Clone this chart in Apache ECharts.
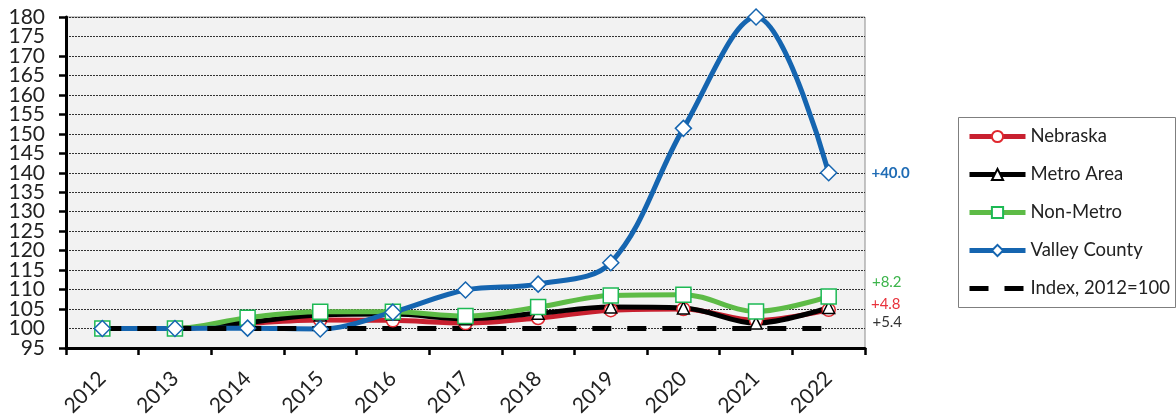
<!DOCTYPE html>
<html>
<head>
<meta charset="utf-8">
<script src="https://cdn.jsdelivr.net/npm/echarts@6/dist/echarts.min.js"></script>
<style>
html,body{margin:0;padding:0;background:#fff;}
#chart{width:1176px;height:419px;}
</style>
</head>
<body>
<div id="chart"></div>
<script>
const years = ['2012','2013','2014','2015','2016','2017','2018','2019','2020','2021','2022'];
const nebraska = [100, 100, 101.3, 102.2, 102.1, 101.4, 102.7, 104.7, 105.0, 102.1, 104.8];
const metro    = [100, 100, 101.6, 103.5, 103.7, 102.5, 103.9, 105.5, 105.3, 101.4, 105.4];
const nonMetro = [100, 100, 102.8, 104.3, 104.3, 103.2, 105.5, 108.5, 108.7, 104.4, 108.2];
const valley   = [100, 100, 100.1, 99.9, 104.2, 109.9, 111.4, 116.9, 151.4, 180.0, 140.0];
const indexLine = [100, 100, 100, 100, 100, 100, 100, 100, 100, 100, 100];
const seriesNames = ['Nebraska', 'Metro Area', 'Non-Metro', 'Valley County', 'Index, 2012=100'];
const endLabels = ['+4.8', '+5.4', '+8.2', '+40.0'];
const yTicks = {min: 95, max: 180, interval: 5};

const FONT = 'Lato';
const GRID = {left: 66, right: 311, top: 17, bottom: 68};
const PLOT_W = 1176 - GRID.left - GRID.right;

function withEndLabel(arr, text, color, offset, bold) {
  return arr.map((v, i) => {
    if (i !== arr.length - 1) return v;
    return {
      value: v,
      label: {
        show: true, formatter: text, position: 'right', distance: 0,
        offset: offset, color: color, fontFamily: FONT, fontSize: 15,
        fontWeight: bold ? 'bold' : 'normal'
      }
    };
  });
}

const yLabelStyle = {fontFamily: FONT, fontSize: 21, color: '#222', margin: 21};

const chart = echarts.init(document.getElementById('chart'), null, {renderer: 'canvas'});
chart.setOption({
  animation: false,
  backgroundColor: '#ffffff',
  graphic: [{
    type: 'rect', left: 958, top: 117, z: 0,
    shape: {width: 217, height: 190},
    style: {fill: '#ffffff', stroke: '#7f7f7f', lineWidth: 1}
  }],
  grid: {
    left: GRID.left, right: GRID.right, top: GRID.top, bottom: GRID.bottom,
    show: true, backgroundColor: '#F2F2F2', borderColor: '#8c8c8c', borderWidth: 1
  },
  legend: {
    orient: 'vertical', left: 958, top: 116,
    padding: [11, 10, 10, 9], itemGap: 19, itemWidth: 56, itemHeight: 14, itemTextGap: 3,
    textStyle: {fontFamily: FONT, fontSize: 18.5, color: '#222'},
    lineStyle: {width: 'inherit'},
    data: seriesNames
  },
  xAxis: {
    type: 'category', data: years, boundaryGap: true,
    axisLine: {show: true, lineStyle: {color: '#000', width: 3}},
    axisTick: {show: true, alignWithLabel: false, length: 7, lineStyle: {color: '#000', width: 2.5}},
    axisLabel: {rotate: 45, fontFamily: FONT, fontSize: 21, color: '#222', margin: 27, interval: 0},
    splitLine: {show: false}
  },
  yAxis: [
    {
      type: 'value', position: 'left', min: yTicks.min, max: yTicks.max, interval: yTicks.interval,
      axisLine: {show: true, lineStyle: {color: '#000', width: 3}},
      axisTick: {show: true, length: 7, lineStyle: {color: '#000', width: 2.5}},
      axisLabel: Object.assign({showMinLabel: true, showMaxLabel: true}, yLabelStyle),
      splitLine: {show: true, lineStyle: {color: '#333', width: 1, type: [2, 1]}}
    },
    {
      // companion axis on the same scale: supplies the labels next to min/max
      type: 'value', position: 'right', offset: -PLOT_W,
      min: yTicks.min, max: yTicks.max, interval: yTicks.interval,
      axisLine: {show: false}, axisTick: {show: false}, splitLine: {show: false},
      axisLabel: Object.assign({
        inside: true, showMinLabel: false, showMaxLabel: false,
        formatter: v => (v === yTicks.min + yTicks.interval || v === yTicks.max - yTicks.interval) ? String(v) : ''
      }, yLabelStyle)
    }
  ],
  series: [
    {
      name: seriesNames[0], type: 'line', smooth: 0.35,
      data: withEndLabel(nebraska, endLabels[0], '#E8323C', [35, -6], false),
      lineStyle: {color: '#C8202F', width: 5},
      symbol: 'circle', symbolSize: 13,
      itemStyle: {color: '#ffffff', borderColor: '#E0282F', borderWidth: 1.5}
    },
    {
      name: seriesNames[1], type: 'line', smooth: 0.35,
      data: withEndLabel(metro, endLabels[1], '#333333', [37, 15], false),
      lineStyle: {color: '#000000', width: 5},
      symbol: 'triangle', symbolSize: 12,
      itemStyle: {color: '#ffffff', borderColor: '#000000', borderWidth: 1.5}
    },
    {
      name: seriesNames[2], type: 'line', smooth: 0.35,
      data: withEndLabel(nonMetro, endLabels[2], '#3CB44B', [35, -14], false),
      lineStyle: {color: '#5DBB46', width: 5},
      symbol: 'rect', symbolSize: 15,
      itemStyle: {color: '#ffffff', borderColor: '#1DB954', borderWidth: 1.5}
    },
    {
      name: seriesNames[3], type: 'line', smooth: 0.35,
      data: withEndLabel(valley, endLabels[3], '#1F6CB5', [34, 0], true),
      lineStyle: {color: '#1565B0', width: 5},
      symbol: 'diamond', symbolSize: 16,
      itemStyle: {color: '#ffffff', borderColor: '#1565B0', borderWidth: 1.5}
    },
    {
      name: seriesNames[4], type: 'line', smooth: false,
      data: indexLine,
      lineStyle: {color: '#000000', width: 5, type: [19, 16]},
      symbol: 'none',
      itemStyle: {color: 'rgba(0,0,0,0)', borderWidth: 0}
    }
  ]
});
</script>
</body>
</html>
